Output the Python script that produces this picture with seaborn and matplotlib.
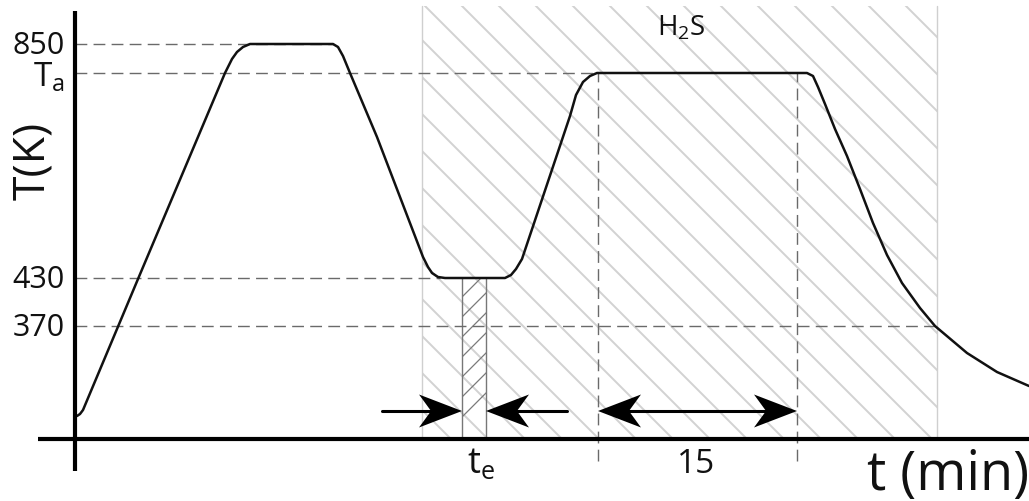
import numpy as np
import pandas as pd
import matplotlib
matplotlib.use("Agg")
import matplotlib.pyplot as plt
from matplotlib.patches import Rectangle, Polygon
import seaborn as sns

# ---------------- data (schematic units: time offset, temperature level height) ----
curve_t = [2, 5, 8, 63, 150, 157, 162, 168, 175, 258, 263, 268, 275, 302, 348, 353,
           357, 363, 370, 430, 436, 441, 447, 495, 501, 508, 515, 522, 732, 738, 743,
           750, 760, 772, 785, 798, 812, 827, 845, 860, 892, 922, 954]
curve_T = [23, 25, 29, 160, 366, 380, 387, 392, 395, 395, 392, 383, 366, 302, 182, 172,
           166, 162, 161, 161, 164, 170, 180, 323, 344, 357, 363, 366, 366, 363, 352,
           335, 310, 283, 250, 216, 184, 156, 131, 113, 86, 67, 53]

level_labels = ["850", "430", "370"]
level_y = [395, 161, 113]
level_dash_end = [258, 365, 860]
Ta_label = r"T$_\mathregular{a}$"
Ta_y = 366
Ta_dash_end = 522

h2s_start, h2s_end = 347, 862        # H2S exposure window
te_start, te_end = 387, 411          # t_e strip
anneal_start, anneal_end = 523, 722  # 15 min anneal
anneal_label = "15"

# ---------------- style ----------------
sns.set_theme(style="white")
plt.rcParams["font.family"] = ["Open Sans", "DejaVu Sans"]
plt.rcParams["mathtext.fontset"] = "custom"
plt.rcParams["mathtext.rm"] = "Open Sans"
plt.rcParams["lines.scale_dashes"] = False

fig = plt.figure(figsize=(10.29, 5.02), dpi=100)
ax = fig.add_axes([0, 0, 1, 1])
ax.set_xlim(-75, 954)
ax.set_ylim(-62, 440)
ax.axis("off")

dash = (0, (8.5, 4.5))
dash_col = "#6a6a6a"
ink = "#111111"

# hatched H2S region (light diagonal lines, "\\")
rect = Rectangle((h2s_start, 0), h2s_end - h2s_start, 433, fill=False, lw=0)
ax.add_patch(rect)
spacing = 37
for k in range(-20, 40):
    c = 455 + spacing * k
    X0, X1 = -200, 1200
    Y0 = 440 - (X0 + 75 - c)
    Y1 = 440 - (X1 + 75 - c)
    ln, = ax.plot([X0, X1], [Y0, Y1], color="#d2d2d2", lw=1.4, zorder=1)
    ln.set_clip_path(rect)
ax.plot([h2s_start, h2s_start], [0, 433], color="#cfcfcf", lw=1.0, zorder=1)
ax.plot([h2s_end, h2s_end], [0, 433], color="#cfcfcf", lw=1.0, zorder=1)

# t_e strip (dense "/" hatch)
strip = Rectangle((te_start, 0), te_end - te_start, level_y[1], fill=False, lw=0)
ax.add_patch(strip)
for k in range(-5, 30):
    c = 300 + 20 * k
    X0, X1 = te_start - 50, te_end + 50
    ln, = ax.plot([X0, X1], [440 - (c - X0 - 75), 440 - (c - X1 - 75)],
                  color="#7a7a7a", lw=0.9, zorder=2)
    ln.set_clip_path(strip)
ax.plot([te_start, te_start], [0, level_y[1]], color="#777777", lw=1.0, zorder=2)
ax.plot([te_end, te_end], [0, level_y[1]], color="#777777", lw=1.0, zorder=2)

# dashed guide lines
for yv, xe in zip(level_y, level_dash_end):
    ax.plot([0, xe], [yv, yv], color=dash_col, lw=1.0, ls=dash, zorder=2)
ax.plot([0, Ta_dash_end], [Ta_y, Ta_y], color=dash_col, lw=1.0, ls=dash, zorder=2)
for xv in (anneal_start, anneal_end):
    ax.plot([xv, xv], [-22, Ta_y], color=dash_col, lw=1.0, ls=dash, zorder=2)

# temperature profile
df = pd.DataFrame({"t": curve_t, "T": curve_T})
sns.lineplot(data=df, x="t", y="T", sort=False, estimator=None, color=ink,
             lw=1.8, ax=ax, zorder=5)

# axes lines
ax.plot([0, 0], [-32, 428], color="black", lw=3.0, solid_capstyle="butt", zorder=6)
ax.plot([-37, 954], [0, 0], color="black", lw=3.0, solid_capstyle="butt", zorder=6)

# arrows
def head(tip_x, y, direction, L=43, W=16.5):
    d = direction
    pts = [(tip_x, y), (tip_x - d * L, y + W), (tip_x - d * 0.72 * L, y),
           (tip_x - d * L, y - W)]
    ax.add_patch(Polygon(pts, closed=True, color="black", zorder=7, lw=0))

ya = 28
ax.plot([307, te_start - 30], [ya, ya], color="black", lw=2.2, zorder=7)
head(te_start, ya, +1)
ax.plot([te_end + 30, 492], [ya, ya], color="black", lw=2.2, zorder=7)
head(te_end, ya, -1)
ax.plot([anneal_start + 30, anneal_end - 30], [ya, ya], color="black", lw=2.2, zorder=7)
head(anneal_start, ya, -1)
head(anneal_end, ya, +1)

# texts
for lab, yv in zip(level_labels, level_y):
    ax.text(-10, yv - 9, lab, ha="right", va="baseline", fontsize=22, color=ink)
ax.text(-42, 354, Ta_label, ha="left", va="baseline", fontsize=24, color=ink)

ax.text(-42, 279, "T(K)", rotation=90, ha="center", va="center", fontsize=32,
        color=ink)
ax.text(792, -50, "t (min)", ha="left", va="baseline", fontsize=39, color=ink)
ax.text((anneal_start + anneal_end) / 2 - 1, -33, anneal_label, ha="center",
        va="baseline", fontsize=24, color=ink)
ax.text(392, -33, r"t$_\mathregular{e}$", ha="left", va="baseline", fontsize=26,
        color=ink)
ax.text(582, 405, r"H$_\mathregular{2}$S", ha="left", va="baseline", fontsize=20,
        color=ink)

fig.savefig("out.png", dpi=100)
